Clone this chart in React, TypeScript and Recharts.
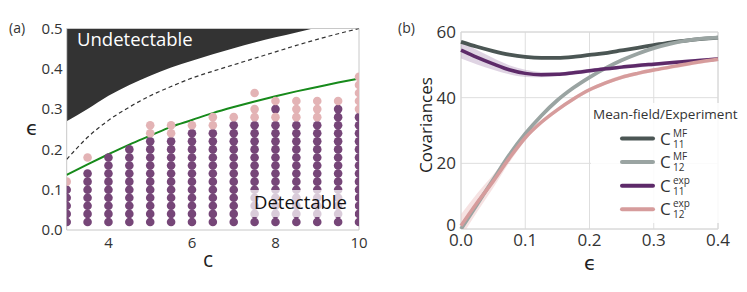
import {
  ComposedChart,
  XAxis,
  YAxis,
  Line,
  Area,
  Scatter,
  ReferenceArea,
  CartesianGrid,
} from 'recharts'

const FONT = '"Open Sans", "DejaVu Sans", sans-serif'
const TEXT = '#333'

// ---- panel (a): detectability phase diagram ----
const C_COLUMNS = [3, 3.5, 4, 4.5, 5, 5.5, 6, 6.5, 7, 7.5, 8, 8.5, 9, 9.5, 10]
const EPS_STEP = 0.02
// highest eps of the contiguous dark (detected) stack in each column
const DARK_TOP = [0.1, 0.14, 0.18, 0.2, 0.22, 0.22, 0.24, 0.24, 0.26, 0.26, 0.26, 0.26, 0.26, 0.3, 0.28]
const EXTRA_DARK = [{ c: 8, eps: 0.3 }]
// pink (not detected) points per column
const PINK_EPS = [
  [0.12],
  [0.18],
  [],
  [],
  [0.24, 0.26],
  [0.24, 0.26],
  [0.26],
  [0.26, 0.28],
  [0.28],
  [0.28, 0.3, 0.34],
  [0.28, 0.32],
  [0.28, 0.3, 0.32],
  [0.28, 0.3, 0.32],
  [0.32],
  [0.3, 0.32, 0.34, 0.36, 0.38],
]

const GREEN_EPS = [0.137, 0.163, 0.188, 0.212, 0.234, 0.256, 0.273, 0.29, 0.305, 0.319, 0.332, 0.344, 0.355, 0.366, 0.376]
const DASH_EPS = [0.175, 0.23, 0.272, 0.305, 0.333, 0.356, 0.377, 0.394, 0.41, 0.426, 0.442, 0.458, 0.473, 0.487, 0.5]

const BOUND_C = [3, 3.5, 4, 4.5, 5, 5.5, 6, 6.5, 7, 7.5, 8, 8.5, 8.9]
const BOUND_EPS = [0.27, 0.3, 0.333, 0.36, 0.383, 0.403, 0.42, 0.436, 0.451, 0.465, 0.478, 0.49, 0.5]

const A_X_TICKS = [4, 6, 8, 10]
const A_Y_TICKS = [0, 0.1, 0.2, 0.3, 0.4, 0.5]

// ---- panel (b): covariances ----
const EPS_X = [0, 0.025, 0.05, 0.075, 0.1, 0.125, 0.15, 0.175, 0.2, 0.225, 0.25, 0.275, 0.3, 0.325, 0.35, 0.375, 0.4]
const C11_MF = [57.0, 55.5, 54.2, 53.1, 52.4, 52.1, 52.1, 52.4, 53.0, 53.6, 54.4, 55.2, 56.0, 56.8, 57.4, 57.9, 58.3]
const C12_MF = [0, 7.5, 15, 22.5, 29, 34.5, 39.2, 43.0, 46.2, 49.0, 51.4, 53.4, 55.1, 56.4, 57.4, 58.0, 58.3]
const C11_EXP = [54.5, 52.3, 50.3, 48.5, 47.4, 47.0, 47.1, 47.6, 48.2, 48.8, 49.3, 49.8, 50.2, 50.6, 51.0, 51.4, 51.8]
const C12_EXP = [1.0, 8.0, 14.5, 21.5, 27.8, 32.5, 36.3, 39.6, 42.4, 44.5, 46.2, 47.4, 48.4, 49.3, 50.2, 51.0, 51.7]
const C11_EXP_ERR = [2.6, 2.2, 1.8, 1.4, 1.1, 0.8, 0.6, 0.6, 0.6, 0.6, 0.6, 0.6, 0.6, 0.6, 0.6, 0.6, 0.6]
const C12_EXP_ERR = [3.5, 2.8, 2.0, 1.3, 0.9, 0.7, 0.6, 0.6, 0.6, 0.6, 0.6, 0.6, 0.6, 0.6, 0.6, 0.6, 0.6]

const B_X_TICKS = [0, 0.1, 0.2, 0.3, 0.4]
const B_Y_TICKS = [0, 20, 40, 60]

const COLORS = {
  c11mf: '#4b5654',
  c12mf: '#9aa4a2',
  c11exp: '#5d2a69',
  c12exp: '#d69c9c',
}

const LEGEND = [
  { key: 'c11mf', sup: 'MF', sub: '11' },
  { key: 'c12mf', sup: 'MF', sub: '12' },
  { key: 'c11exp', sup: 'exp', sub: '11' },
  { key: 'c12exp', sup: 'exp', sub: '12' },
]

const darkPoints: { c: number; eps: number }[] = []
C_COLUMNS.forEach((c, i) => {
  const n = Math.round(DARK_TOP[i] / EPS_STEP)
  for (let k = 1; k <= n; k++) darkPoints.push({ c, eps: k * EPS_STEP })
})
EXTRA_DARK.forEach((p) => darkPoints.push(p))

const pinkPoints: { c: number; eps: number }[] = []
C_COLUMNS.forEach((c, i) => PINK_EPS[i].forEach((eps) => pinkPoints.push({ c, eps })))

const greenData = C_COLUMNS.map((c, i) => ({ c, eps: GREEN_EPS[i] }))
const dashData = C_COLUMNS.map((c, i) => ({ c, eps: DASH_EPS[i] }))
const boundData = BOUND_C.map((c, i) => ({ c, range: [BOUND_EPS[i], 0.5] }))

const covData = EPS_X.map((e, i) => ({
  e,
  c11mf: C11_MF[i],
  c12mf: C12_MF[i],
  c11exp: C11_EXP[i],
  c12exp: C12_EXP[i],
  c11band: [C11_EXP[i] - C11_EXP_ERR[i], C11_EXP[i] + C11_EXP_ERR[i]],
  c12band: [C12_EXP[i] - C12_EXP_ERR[i], C12_EXP[i] + C12_EXP_ERR[i]],
}))

const dot = (color: string) => (p: any) => <circle cx={p.cx} cy={p.cy} r={4.3} fill={color} />

// y ticks of panel (b); the bottom "0" sits a little higher so it clears "0.0"
const CovTick = (p: any) => (
  <text
    x={p.x}
    y={p.y + (p.payload.value === 0 ? -4 : 0)}
    dy="0.355em"
    textAnchor="end"
    fill={TEXT}
    fontSize={17}
    fontFamily={FONT}
  >
    {p.payload.value}
  </text>
)

function PanelA() {
  return (
    <ComposedChart width={380} height={292} margin={{ top: 28.5, right: 21, bottom: 32, left: 0 }}>
      <XAxis
        type="number"
        dataKey="c"
        domain={[3, 10]}
        ticks={A_X_TICKS}
        allowDataOverflow
        height={30}
        tickSize={0}
        tickMargin={7}
        axisLine={false}
        tick={{ fill: TEXT, fontSize: 15, fontFamily: FONT }}
      />
      <YAxis
        type="number"
        domain={[0, 0.5]}
        ticks={A_Y_TICKS}
        allowDataOverflow
        width={66.7}
        tickSize={0}
        tickMargin={4}
        axisLine={false}
        tickFormatter={(v: number) => v.toFixed(1)}
        tick={{ fill: TEXT, fontSize: 15, fontFamily: FONT }}
      />
      <Area
        data={boundData}
        dataKey="range"
        type="monotone"
        fill="#333333"
        fillOpacity={1}
        stroke="none"
        isAnimationActive={false}
        dot={false}
        activeDot={false}
      />
      <Line
        data={dashData}
        dataKey="eps"
        type="monotone"
        stroke="#333"
        strokeWidth={1.2}
        strokeDasharray="4 3"
        dot={false}
        activeDot={false}
        isAnimationActive={false}
      />
      <Scatter data={darkPoints} dataKey="eps" shape={dot('#764678')} isAnimationActive={false} />
      <Scatter data={pinkPoints} dataKey="eps" shape={dot('#e3b3b5')} isAnimationActive={false} />
      <Line
        data={greenData}
        dataKey="eps"
        type="monotone"
        stroke="#178a1b"
        strokeWidth={2}
        dot={false}
        activeDot={false}
        isAnimationActive={false}
      />
      <ReferenceArea x1={3} x2={10} y1={0} y2={0.5} fill="none" stroke="#c8c8c8" strokeWidth={1} />
    </ComposedChart>
  )
}

function PanelB() {
  return (
    <ComposedChart width={367} height={292} data={covData} margin={{ top: 32, right: 29, bottom: 33, left: 0 }}>
      <CartesianGrid stroke="#dedede" />
      <XAxis
        type="number"
        dataKey="e"
        domain={[0, 0.4]}
        ticks={B_X_TICKS}
        height={30}
        tickSize={0}
        tickMargin={5}
        axisLine={false}
        tickFormatter={(v: number) => v.toFixed(1)}
        tick={{ fill: TEXT, fontSize: 17, fontFamily: FONT }}
      />
      <YAxis
        type="number"
        domain={[0, 60]}
        ticks={B_Y_TICKS}
        allowDataOverflow
        width={81}
        tickSize={0}
        tickMargin={5}
        axisLine={false}
        tick={CovTick}
      />
      <ReferenceArea x1={0} x2={0.4} y1={0} y2={60} fill="none" stroke="#d6d6d6" strokeWidth={1} />
      <Area
        dataKey="c11band"
        type="monotone"
        fill="#b79fc0"
        fillOpacity={0.45}
        stroke="none"
        dot={false}
        activeDot={false}
        isAnimationActive={false}
      />
      <Area
        dataKey="c12band"
        type="monotone"
        fill="#eec6c6"
        fillOpacity={0.5}
        stroke="none"
        dot={false}
        activeDot={false}
        isAnimationActive={false}
      />
      <Line dataKey="c11mf" type="monotone" stroke={COLORS.c11mf} strokeWidth={3.8} dot={false} activeDot={false} isAnimationActive={false} />
      <Line dataKey="c12mf" type="monotone" stroke={COLORS.c12mf} strokeWidth={3.8} dot={false} activeDot={false} isAnimationActive={false} />
      <Line dataKey="c11exp" type="monotone" stroke={COLORS.c11exp} strokeWidth={3.5} dot={false} activeDot={false} isAnimationActive={false} />
      <Line dataKey="c12exp" type="monotone" stroke={COLORS.c12exp} strokeWidth={3.5} dot={false} activeDot={false} isAnimationActive={false} />
    </ComposedChart>
  )
}

const abs = (left: number, top: number, extra: React.CSSProperties = {}): React.CSSProperties => ({
  position: 'absolute',
  left,
  top,
  fontFamily: FONT,
  color: TEXT,
  whiteSpace: 'nowrap',
  lineHeight: 1,
  ...extra,
})

// legend of panel (b), drawn as one small svg over the plot
function CovLegend() {
  return (
    <svg width={150} height={120} style={{ position: 'absolute', left: 591, top: 103 }}>
      <rect x={0} y={0} width={150} height={120} fill="#fff" fillOpacity={0.85} />
      <text x={2} y={16} fontSize={13.5} fontFamily={FONT} fill={TEXT}>
        Mean-field/Experiment
      </text>
      {LEGEND.map((item, i) => {
        const y = 35.5 + i * 23.6
        return (
          <g key={item.key}>
            <line
              x1={31}
              x2={62}
              y1={y}
              y2={y}
              stroke={COLORS[item.key as keyof typeof COLORS]}
              strokeWidth={4}
              strokeLinecap="round"
            />
            <text x={69} y={y + 6} fontSize={17} fontFamily={FONT} fill={TEXT}>
              C
              <tspan x={82} dy={-8} fontSize={10}>
                {item.sup}
              </tspan>
              <tspan x={82} dy={11} fontSize={10}>
                {item.sub}
              </tspan>
            </text>
          </g>
        )
      })}
    </svg>
  )
}

export default function App() {
  return (
    <div style={{ position: 'absolute', left: 0, top: 0, width: 747, height: 292, background: '#fff', overflow: 'hidden' }}>
      <div style={{ position: 'absolute', left: 0, top: 0 }}>
        <PanelA />
      </div>
      <div style={{ position: 'absolute', left: 380, top: 0 }}>
        <PanelB />
      </div>

      {/* panel (a) annotations */}
      <div style={abs(9, 21, { fontSize: 14 })}>(a)</div>
      <div style={abs(77, 30, { fontSize: 18.5, color: '#fff' })}>Undetectable</div>
      <div style={abs(250, 190, { width: 105, height: 27, background: 'rgba(255,255,255,0.72)' })} />
      <div style={abs(254, 193, { fontSize: 18.5, color: '#111' })}>Detectable</div>
      <div style={abs(26, 118, { fontSize: 20, fontFamily: '"DejaVu Sans", sans-serif', color: '#222' })}>ϵ</div>
      <div style={abs(203, 249, { fontSize: 21, color: '#222' })}>c</div>

      {/* panel (b) annotations */}
      <div style={abs(398, 21, { fontSize: 14 })}>(b)</div>
      <div
        style={abs(425, 125, {
          fontSize: 17,
          transform: 'translate(-50%, -50%) rotate(-90deg)',
          color: '#222',
        })}
      >
        Covariances
      </div>
      <div style={abs(584, 253, { fontSize: 20, fontFamily: '"DejaVu Sans", sans-serif', color: '#222' })}>ϵ</div>

      <CovLegend />
    </div>
  )
}
